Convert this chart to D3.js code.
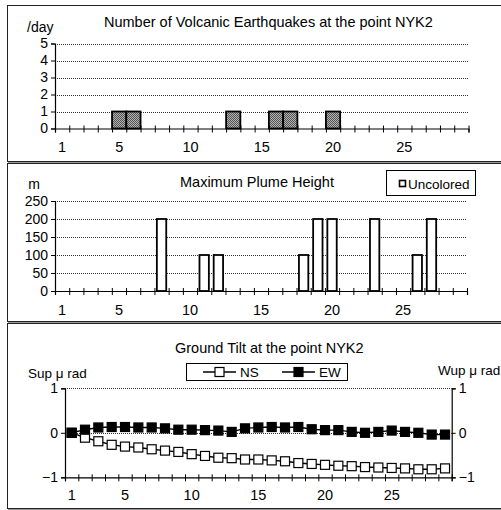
<!DOCTYPE html>
<html><head><meta charset="utf-8">
<script src="https://cdn.jsdelivr.net/npm/d3@7"></script>
<style>
html,body{margin:0;padding:0;background:#fff;}
text{font-family:"Liberation Sans",Arial,sans-serif;fill:#000;}
</style></head>
<body>
<svg id="c" width="501" height="510"></svg>
<script>
// ---- data ----
const days = d3.range(1, 30); // 1..29
const dayLabels = [1, 5, 10, 15, 20, 25];
const quakeDays = [5, 6, 13, 16, 17, 20];
const quakeCounts = [1, 1, 1, 1, 1, 1];
const quakeTicks = [0, 1, 2, 3, 4, 5];
const plumeDays = [8, 11, 12, 18, 19, 20, 23, 26, 27];
const plumeHeights = [200, 100, 100, 100, 200, 200, 200, 100, 200];
const plumeTicks = [0, 50, 100, 150, 200, 250];
const tiltNS = [0, -0.11, -0.19, -0.27, -0.31, -0.33, -0.37, -0.40, -0.43, -0.48, -0.52, -0.56, -0.57, -0.60,
                -0.60, -0.62, -0.64, -0.68, -0.70, -0.72, -0.74, -0.75, -0.77, -0.78, -0.79, -0.80, -0.82, -0.82, -0.80];
const tiltEW = [0, 0.07, 0.12, 0.13, 0.13, 0.12, 0.12, 0.10, 0.07, 0.07, 0.06, 0.05, 0.02, 0.10,
                0.12, 0.13, 0.12, 0.13, 0.08, 0.06, 0.06, 0.02, 0.00, 0.02, 0.05, 0.02, 0.00, -0.04, -0.04];
const tiltTicks = [-1, 0, 1];

const svg = d3.select("#c");
const FONT = '"Liberation Sans",Arial,sans-serif';

// pattern for quake bars
const defs = svg.append("defs");
const pat = defs.append("pattern").attr("id", "dots").attr("width", 2).attr("height", 2)
  .attr("patternUnits", "userSpaceOnUse");
pat.append("rect").attr("width", 2).attr("height", 2).attr("fill", "#b0b0b0");
pat.append("rect").attr("width", 1).attr("height", 1).attr("fill", "#555");
pat.append("rect").attr("x", 1).attr("y", 1).attr("width", 1).attr("height", 1).attr("fill", "#555");

// ---- panel frames ----
function frame(y0, y1) {
  svg.append("rect").attr("x", 7.5).attr("y", y0 + 0.5).attr("width", 500).attr("height", y1 - y0)
    .attr("fill", "none").attr("stroke", "#222").attr("stroke-width", 1);
  svg.append("line").attr("x1", 8).attr("x2", 501).attr("y1", y1 + 1.5).attr("y2", y1 + 1.5)
    .attr("stroke", "#999").attr("stroke-width", 1);
}
frame(5, 161);
frame(163, 321);
frame(323, 508);

function grid(g, xr, ys) {
  g.selectAll(null).data(ys).enter().append("line")
    .attr("x1", xr[0]).attr("x2", xr[1])
    .attr("y1", d => Math.round(d) + 0.5).attr("y2", d => Math.round(d) + 0.5)
    .attr("stroke", "#333").attr("stroke-width", 1).attr("stroke-dasharray", "1,1");
}

function catAxis(g, x, yAxis, yLabel) {
  const lin = d3.scaleLinear().domain([0, days.length]).range(x.range());
  const tk = g.append("g").attr("transform", `translate(0,${yAxis})`)
    .call(d3.axisBottom(lin).tickValues(d3.range(0, days.length + 1)).tickSize(4).tickFormat(""));
  tk.select(".domain").attr("stroke", "#000").attr("stroke-width", 1.2);
  tk.selectAll(".tick line").attr("y1", -3).attr("stroke", "#000");
  const lb = g.append("g").attr("transform", `translate(0,${yLabel})`)
    .call(d3.axisBottom(x).tickValues(dayLabels).tickSize(0).tickPadding(0));
  lb.select(".domain").remove();
  lb.selectAll("text").attr("font-size", 14.5).attr("dy", "0.35em").attr("y", 0)
    .style("font-family", FONT);
}

function valAxis(g, y, x0, ticks, orient, fmt) {
  const ax = (orient === "left" ? d3.axisLeft(y) : d3.axisRight(y)).tickValues(ticks).tickSize(4).tickPadding(3)
    .tickFormat(fmt || (d => d));
  const a = g.append("g").attr("transform", `translate(${x0},0)`).call(ax);
  a.select(".domain").attr("stroke", "#000").attr("stroke-width", 1.2);
  a.selectAll(".tick line").attr("stroke", "#000");
  a.selectAll("text").attr("font-size", 14).style("font-family", FONT);
  return a;
}

// ---- panel 1 ----
{
  const g = svg.append("g");
  const x = d3.scaleBand().domain(days).range([55, 468.5]).padding(0);
  const y = d3.scaleLinear().domain([0, 5]).range([128.5, 43.5]);
  grid(g, [55, 468.5], quakeTicks.filter(d => d > 0).map(y));
  g.selectAll(null).data(quakeDays).enter().append("rect")
    .attr("x", d => x(d)).attr("width", x.bandwidth())
    .attr("y", (d, i) => y(quakeCounts[i])).attr("height", (d, i) => y(0) - y(quakeCounts[i]))
    .attr("fill", "url(#dots)").attr("stroke", "#000").attr("stroke-width", 1.8);
  valAxis(g, y, 55, quakeTicks, "left");
  catAxis(g, x, 128.5, 147);
  g.append("text").attr("x", 104).attr("y", 22).attr("dy", "0.35em").attr("font-size", 14.5)
    .text("Number of Volcanic Earthquakes at the point NYK2");
  g.append("text").attr("x", 27).attr("y", 27).attr("dy", "0.35em").attr("font-size", 14).text("/day");
}

// ---- panel 2 ----
{
  const g = svg.append("g");
  const x = d3.scaleBand().domain(days).range([55, 467]).padding(0);
  const y = d3.scaleLinear().domain([0, 250]).range([291, 201]);
  grid(g, [55, 467], plumeTicks.filter(d => d > 0).map(y));
  const bw = x.bandwidth() * 0.66;
  g.selectAll(null).data(plumeDays).enter().append("rect")
    .attr("x", d => x(d) + (x.bandwidth() - bw) / 2).attr("width", bw)
    .attr("y", (d, i) => y(plumeHeights[i])).attr("height", (d, i) => y(0) - y(plumeHeights[i]))
    .attr("fill", "#fff").attr("stroke", "#000").attr("stroke-width", 1.8);
  valAxis(g, y, 55, plumeTicks, "left");
  catAxis(g, x, 291, 310);
  g.append("text").attr("x", 180).attr("y", 182).attr("dy", "0.35em").attr("font-size", 14.5)
    .text("Maximum Plume Height");
  g.append("text").attr("x", 34).attr("y", 184).attr("dy", "0.35em").attr("font-size", 14)
    .attr("text-anchor", "middle").text("m");
  // legend
  g.append("rect").attr("x", 386.5).attr("y", 170.5).attr("width", 89).attr("height", 25)
    .attr("fill", "#fff").attr("stroke", "#000");
  g.append("rect").attr("x", 399.5).attr("y", 180.5).attr("width", 6).attr("height", 6)
    .attr("fill", "#fff").attr("stroke", "#000").attr("stroke-width", 1.6);
  g.append("text").attr("x", 408).attr("y", 184).attr("dy", "0.35em").attr("font-size", 13.5).text("Uncolored");
}

// ---- panel 3 ----
{
  const g = svg.append("g");
  const x = d3.scaleBand().domain(days).range([65, 451.7]).padding(0);
  const y = d3.scaleLinear().domain([-1, 1]).range([477.3, 388.3]);
  grid(g, [65, 451.7], [y(1), y(0)]);
  const cx = d => x(d) + x.bandwidth() / 2;
  const line = d3.line().x((d, i) => cx(days[i])).y(d => y(d));
  valAxis(g, y, 65, tiltTicks, "left", d => d < 0 ? "−" + Math.abs(d) : d);
  valAxis(g, y, 451.7, tiltTicks, "right", d => d < 0 ? "−" + Math.abs(d) : d);
  catAxis(g, x, 477.3, 495);
  const series = [{v: tiltNS, fill: "#fff"}, {v: tiltEW, fill: "#000"}];
  series.forEach(s => {
    g.append("path").attr("d", line(s.v)).attr("fill", "none").attr("stroke", "#000").attr("stroke-width", 1.4);
    g.selectAll(null).data(s.v).enter().append("rect")
      .attr("x", (d, i) => cx(days[i]) - 4.5).attr("y", d => y(d) - 4.5)
      .attr("width", 9).attr("height", 9)
      .attr("fill", s.fill).attr("stroke", "#000").attr("stroke-width", 1.2);
  });
  g.append("text").attr("x", 175).attr("y", 348).attr("dy", "0.35em").attr("font-size", 14.5)
    .text("Ground Tilt at the point NYK2");
  g.append("text").attr("x", 28).attr("y", 373).attr("dy", "0.35em").attr("font-size", 13.5).text("Sup μ rad");
  g.append("text").attr("x", 438).attr("y", 370).attr("dy", "0.35em").attr("font-size", 13.5).text("Wup μ rad");
  // legend
  g.append("rect").attr("x", 186.5).attr("y", 363.5).attr("width", 161).attr("height", 17)
    .attr("fill", "#fff").attr("stroke", "#000");
  const items = [{name: "NS", x0: 203, fill: "#fff"}, {name: "EW", x0: 282, fill: "#000"}];
  items.forEach(it => {
    g.append("line").attr("x1", it.x0).attr("x2", it.x0 + 33).attr("y1", 372).attr("y2", 372)
      .attr("stroke", "#000").attr("stroke-width", 1.4);
    g.append("rect").attr("x", it.x0 + 12).attr("y", 367.5).attr("width", 9).attr("height", 9)
      .attr("fill", it.fill).attr("stroke", "#000").attr("stroke-width", 1.2);
    g.append("text").attr("x", it.x0 + 37).attr("y", 372).attr("dy", "0.35em").attr("font-size", 13.5).text(it.name);
  });
}
</script>
</body></html>
